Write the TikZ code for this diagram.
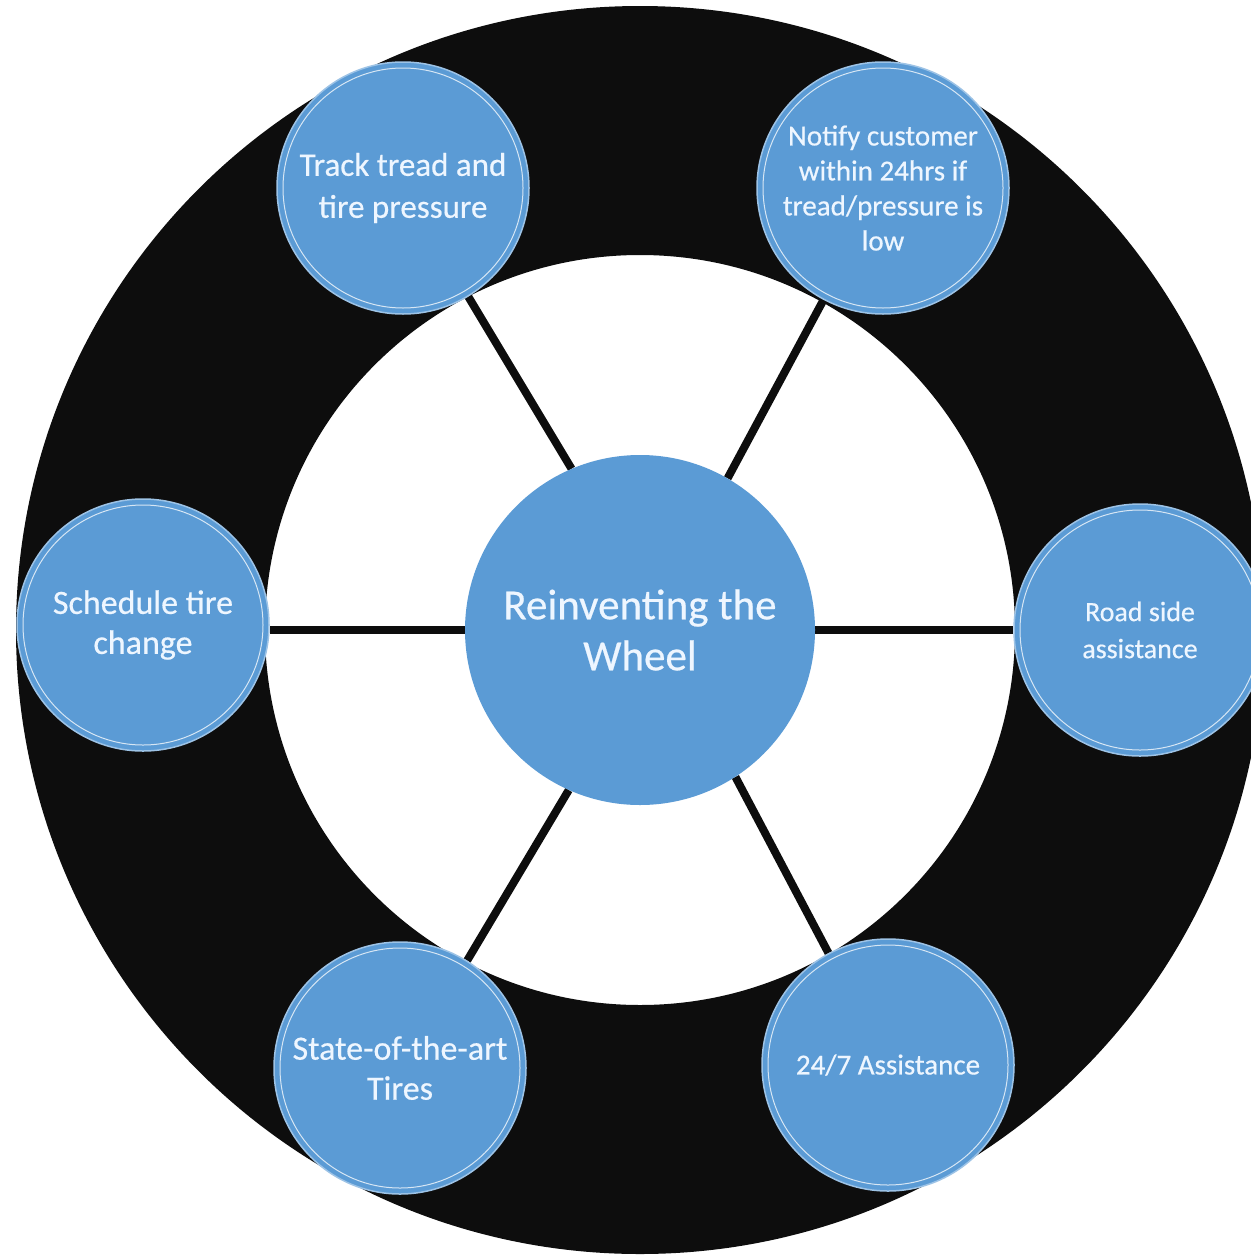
\documentclass[tikz,border=0pt]{standalone}
\usepackage{fontspec}
\setmainfont{Carlito}[FakeBold=0.5]
\usetikzlibrary{backgrounds}
\definecolor{ringblack}{HTML}{0D0D0D}
\definecolor{bubble}{HTML}{5B9BD5}
\definecolor{bubbleedge}{HTML}{9DC3E6}
\definecolor{txt}{HTML}{EEF6FF}
\begin{document}
\begin{tikzpicture}[x=1pt,y=-1pt,
  bub/.style={circle, fill=bubble, draw=bubbleedge, line width=1.5pt, minimum size=252pt,
              inner sep=0pt, text=txt, align=center},
  hub/.style={circle, fill=bubble, minimum size=350pt, inner sep=0pt, text=txt, align=center,
              font=\fontsize{43}{51}\selectfont},
  spoke/.style={line width=8pt, draw=ringblack},
  innerline/.style={draw=white!75!bubble, line width=1pt}]
\useasboundingbox (0,0) rectangle (1250,1258);
\coordinate (c) at (640,630);

\node[hub] (hub) at (c) {Reinventing the\\Wheel};

\node[bub, font=\fontsize{33}{42}\selectfont] (track) at (403,188) {Track tread and\\tire pressure};
\node[bub, font=\fontsize{29}{35}\selectfont] (notify) at (883,188) {Notify customer\\within 24hrs if\\tread/pressure is\\low};
\node[bub, font=\fontsize{34}{40}\selectfont] (sched) at (143,625) {Schedule tire\\change};
\node[bub, font=\fontsize{28}{37}\selectfont] (road) at (1140,630) {Road side\\assistance};
\node[bub, font=\fontsize{34}{40}\selectfont] (state) at (400,1068) {State-of-the-art\\Tires};
\node[bub, font=\fontsize{29}{36}\selectfont] (assist) at (888,1065) {24/7 Assistance};

\foreach \n in {track,notify,sched,road,state,assist}{
  \draw[innerline] (\n.center) circle (120pt);
}

\begin{scope}[on background layer]
  \fill[white] (0,0) rectangle (1250,1258);
  \fill[ringblack, even odd rule] (c) circle (624pt) (c) circle (375pt);
  \draw[spoke] (hub.113) -- (track.-59);
  \draw[spoke] (hub.60) -- (notify.-118);
  \draw[spoke] (hub.180) -- (hub.180 -| sched.east);
  \draw[spoke] (hub.0) -- (road.180);
  \draw[spoke] (hub.246) -- (state.58);
  \draw[spoke] (hub.-57) -- (assist.118);
\end{scope}
\end{tikzpicture}
\end{document}
